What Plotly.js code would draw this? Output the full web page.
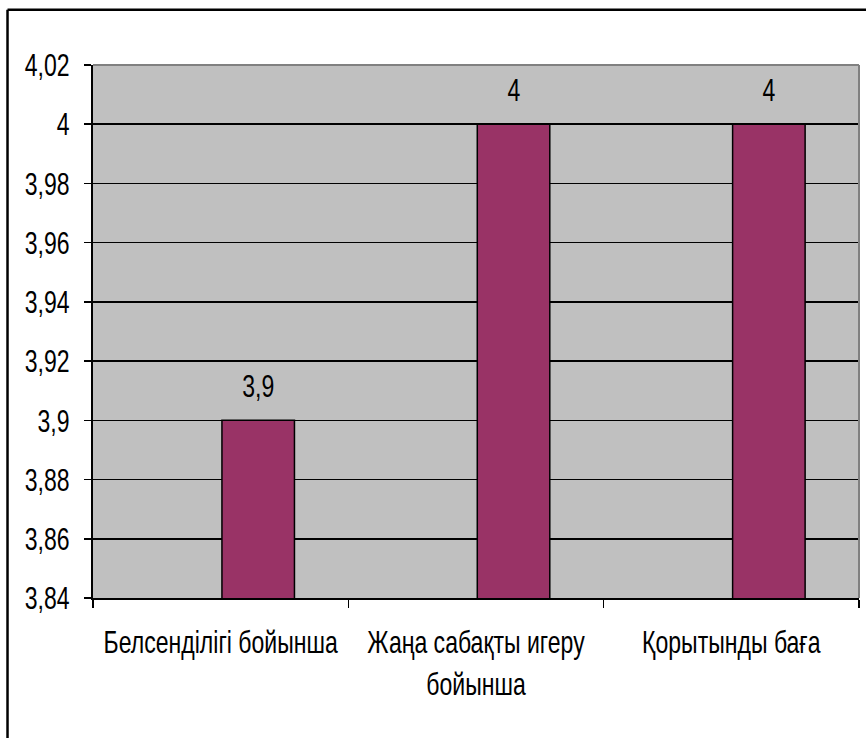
<!DOCTYPE html>
<html>
<head>
<meta charset="utf-8">
<script src="https://cdn.plot.ly/plotly-3.0.1.min.js"></script>
<style>html,body{margin:0;padding:0;background:#fff;}#chart{width:866px;height:738px;}</style>
</head>
<body>
<div id="chart"></div>
<script>
var categories = ["Белсенділігі бойынша", "Жаңа сабақты игеру<br>бойынша", "Қорытынды баға"];
var values = [3.9, 4, 4];
var yTickVals = [3.84, 3.86, 3.88, 3.9, 3.92, 3.94, 3.96, 3.98, 4, 4.02];
var yTickText = ["3,84", "3,86", "3,88", "3,9", "3,92", "3,94", "3,96", "3,98", "4", "4,02"];

var FONT = '"Liberation Sans", Arial, sans-serif';
var FS = 32;
var NARROW = 0.72;
var barWidth = 0.284, barOffset = 0.005;

var trace = {
  type: 'bar',
  x: categories,
  y: values,
  width: barWidth,
  offset: barOffset,
  marker: {color: '#993366', line: {color: '#000000', width: 1.5}},
  hoverinfo: 'none'
};

var annotations = values.map(function (v, i) {
  return {
    x: i + barOffset + barWidth / 2, y: v, xref: 'x', yref: 'y',
    text: String(v).replace('.', ','), showarrow: false,
    yanchor: 'middle', yshift: 34,
    font: {family: FONT, size: FS, color: '#000'}
  };
});

var layout = {
  width: 866, height: 738,
  margin: {l: 93, r: 7, t: 65, b: 140},
  paper_bgcolor: '#ffffff',
  plot_bgcolor: '#C0C0C0',
  showlegend: false,
  bargap: 0,
  font: {family: FONT, size: FS, color: '#000'},
  xaxis: {
    type: 'category',
    tickson: 'boundaries',
    tickangle: 0,
    ticks: 'outside', ticklen: 8, tickwidth: 1.5, tickcolor: '#000',
    ticklabelstandoff: 15,
    showline: true, linecolor: '#000', linewidth: 2,
    showgrid: false, zeroline: false,
    tickfont: {family: FONT, size: FS, color: '#000'},
    fixedrange: true
  },
  yaxis: {
    range: [3.84, 4.02],
    tickmode: 'array', tickvals: yTickVals, ticktext: yTickText,
    ticks: 'outside', ticklen: 7, tickwidth: 1.5, tickcolor: '#000',
    ticklabelstandoff: 8,
    showline: true, linecolor: '#000', linewidth: 2,
    showgrid: true, gridcolor: '#000', gridwidth: 1.5,
    zeroline: false,
    tickfont: {family: FONT, size: FS, color: '#000'},
    fixedrange: true
  },
  annotations: annotations,
  shapes: [
    {type: 'line', xref: 'paper', yref: 'paper', x0: 0, x1: 1, y0: 1, y1: 1, line: {color: '#808080', width: 2}, layer: 'above'},
    {type: 'line', xref: 'paper', yref: 'paper', x0: 1, x1: 1, y0: 0, y1: 1, line: {color: '#808080', width: 2}, layer: 'above'},
    {type: 'line', xref: 'paper', yref: 'paper', x0: -0.1116, x1: 1.2, y0: 1.1035, y1: 1.1035, line: {color: '#000', width: 2.5}},
    {type: 'line', xref: 'paper', yref: 'paper', x0: -0.1116, x1: -0.1116, y0: 1.1035, y1: -0.4, line: {color: '#000', width: 2.5}}
  ]
};

function narrowText(gd) {
  var nodes = gd.querySelectorAll('.xtick text, .ytick text, .annotation-text');
  nodes.forEach(function (t) {
    var x = parseFloat(t.getAttribute('x')) || 0;
    var tr = t.getAttribute('transform') || '';
    t.setAttribute('transform', tr + ' translate(' + x + ',0) scale(' + NARROW + ',1) translate(' + (-x) + ',0)');
  });
}

Plotly.newPlot('chart', [trace], layout, {displayModeBar: false, staticPlot: true}).then(narrowText);
</script>
</body>
</html>
